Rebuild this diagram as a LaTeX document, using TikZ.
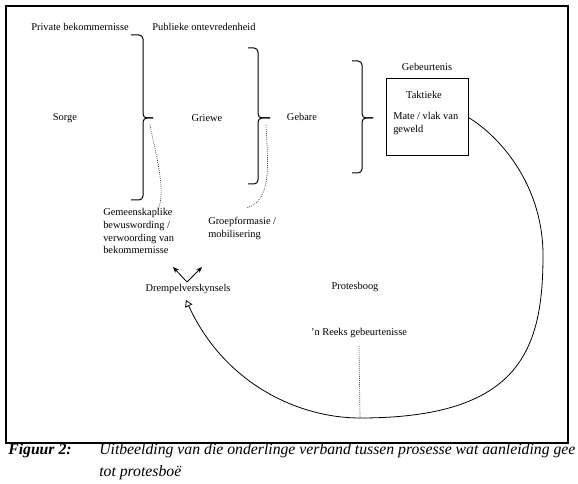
\documentclass[tikz,border=0pt]{standalone}
\usepackage{fontspec}
\setmainfont{Liberation Serif}
\usetikzlibrary{arrows.meta}
\begin{document}
\begin{tikzpicture}[x=0.75pt,y=-0.75pt,
  lbl/.style={font=\fontsize{7.8}{9.6}\selectfont, inner sep=0pt},
  ml/.style={lbl, align=left},
  capt/.style={font=\fontsize{11.8}{14}\selectfont\itshape, inner sep=0pt, anchor=base west},
  frame/.style={line width=1.5pt},
  bracepath/.style={line width=0.75pt, rounded corners=3pt},
  dotline/.style={densely dotted, line width=0.5pt},
  arcline/.style={line width=0.6pt},
  vtip/.style={line width=0.6pt, -{Stealth[length=4.5pt,width=3.5pt]}}]
\useasboundingbox (0,0) rectangle (578,484);
\draw[frame] (6,6) rectangle (568,443);
% labels
\node[lbl] (priv) at (80,27) {Private bekommernisse};
\node[lbl] (pub) at (204,27) {Publieke ontevredenheid};
\node[lbl] (sorge) at (65,118) {Sorge};
\node[lbl] (griewe) at (207,118) {Griewe};
\node[lbl] (gebare) at (302,117) {Gebare};
\node[lbl] (gebeur) at (427,67) {Gebeurtenis};
\node[draw, line width=0.75pt, minimum width=61.5pt, minimum height=57.75pt, inner sep=0pt] (box) at (427,117.5) {};
\node[lbl] (takt) at (424,95) {Taktieke};
\node[ml, anchor=north west] (mate) at (393,112) {Mate / vlak van\\geweld};
\node[ml, anchor=north west] (gem) at (103,208) {Gemeenskaplike\\bewuswording /\\verwoording van\\bekommernisse};
\node[ml, anchor=north west] (groep) at (208,217) {Groepformasie /\\mobilisering};
\node[lbl] (drempel) at (188,289) {Drempelverskynsels};
\node[lbl] (protes) at (355,287) {Protesboog};
\node[lbl] (reeks) at (359,333) {’n Reeks gebeurtenisse};
% braces
\coordinate (b1tip) at (153,118);
\coordinate (b2tip) at (270,118);
\coordinate (b3tip) at (373,118);
\draw[bracepath] (131,35) -- (143,35) -- (143,118) -- (b1tip);
\draw[bracepath] (b1tip) -- (143,118) -- (143,200) -- (131,200);
\draw[bracepath] (248,48) -- (258,48) -- (258,118) -- (b2tip);
\draw[bracepath] (b2tip) -- (258,118) -- (258,184) -- (248,184);
\draw[bracepath] (352,61) -- (362,61) -- (362,118) -- (b3tip);
\draw[bracepath] (b3tip) -- (362,118) -- (362,173) -- (352,173);
% dotted connectors
\coordinate (d1s) at (150,125);
\coordinate (d1e) at (158,210);
\draw[dotline] (d1s) .. controls (157,160) and (166,190) .. (d1e);
\coordinate (d2s) at (266,125);
\coordinate (d2e) at (247,208);
\draw[dotline] (d2s) .. controls (268,165) and (272,200) .. (d2e);
\coordinate (arcbot) at (360,418);
\draw[dotline] (reeks.south) ++(0,8) -- (arcbot);
% V arrows
\coordinate (v) at (187,282);
\coordinate (vl) at (173,267);
\coordinate (vr) at (202,267);
\draw[vtip] (v) -- (vl);
\draw[vtip] (v) -- (vr);
% protest arc
\coordinate (tip) at (186,300);
\coordinate (arcright) at (543,255);
\draw[arcline, -{Triangle[open,length=5pt,width=6pt]}]
  (box.east) .. controls (505,140) and (543,190) .. (arcright)
  .. controls (543,350) and (520,418) .. (arcbot)
  .. controls (300,418) and (225,385) .. (tip);
% caption
\node[capt, font=\fontsize{11.8}{14}\selectfont\bfseries\itshape] (fig) at (8,454) {Figuur 2:};
\node[capt] (cap1) at (99,454) {Uitbeelding van die onderlinge verband tussen prosesse wat aanleiding gee};
\node[capt] (cap2) at (99,476) {tot protesboë};
\end{tikzpicture}
\end{document}
